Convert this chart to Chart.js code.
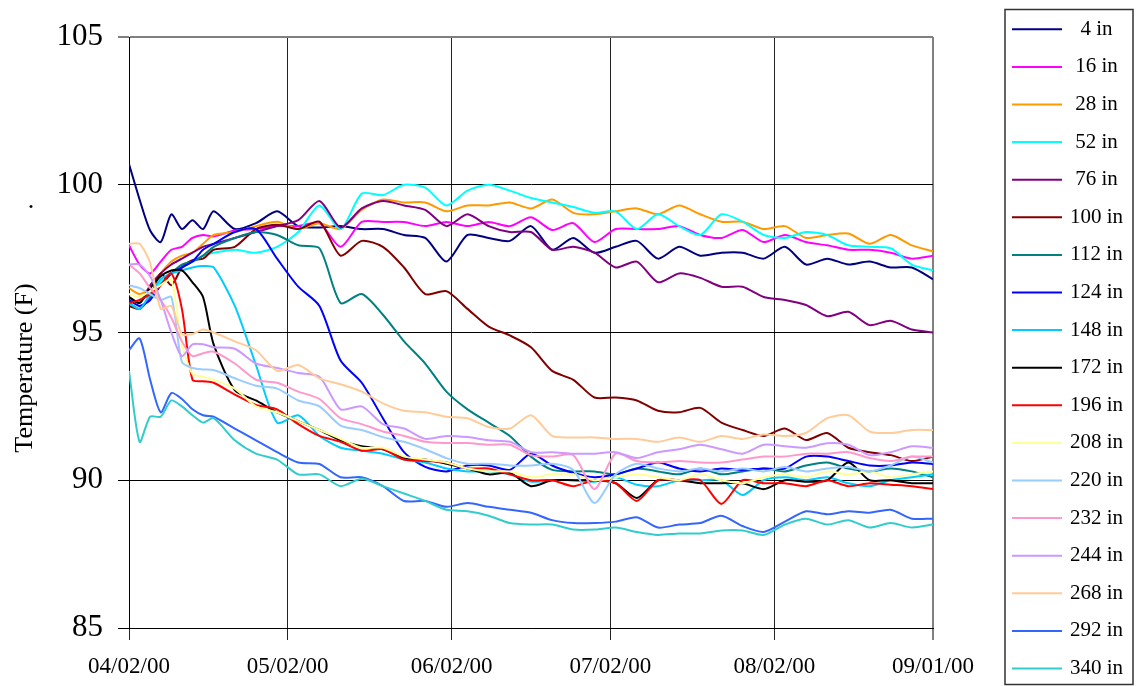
<!DOCTYPE html>
<html lang="en">
<head>
    <meta charset="UTF-8">
    <title>Temperature by Depth</title>
    <script src="https://cdn.jsdelivr.net/npm/chart.js"></script>
    <style>
        html, body { margin: 0; padding: 0; background: #fff; }
        .chart-container { position: relative; width: 1138px; height: 686px; }
    </style>
</head>
<body>
<div class="chart-container"><canvas id="tempChart"></canvas></div>
<script>
// days since 04/02/00
const days = [0, 2, 4, 6, 8, 10, 12, 14, 16, 20, 24, 28, 32, 36, 40, 44, 48, 52, 56,
    60, 64, 68, 72, 76, 80, 84, 88, 92, 96, 100, 104, 108, 112, 116, 120, 124, 128, 132, 136,
    140, 144, 148, 152];

const tickDays = [0, 30, 61, 91, 122, 152];
const tickLabels = ['04/02/00', '05/02/00', '06/02/00', '07/02/00', '08/02/00', '09/01/00'];

const depthLabels = ['4 in', '16 in', '28 in', '52 in', '76 in', '100 in', '112 in', '124 in', '148 in',
    '172 in', '196 in', '208 in', '220 in', '232 in', '244 in', '268 in', '292 in', '340 in'];

const t4 = [100.7, 99.5, 98.45, 98.06, 99.0, 98.5, 98.8, 98.5, 99.1,
    98.5, 98.7, 99.1, 98.6, 98.55, 98.6, 98.5, 98.5, 98.3, 98.2,
    97.4, 98.3, 98.2, 98.1, 98.6, 97.8, 98.2, 97.7, 97.9, 98.1,
    97.5, 97.9, 97.6, 97.7, 97.7, 97.5, 97.9, 97.3, 97.5, 97.3,
    97.4, 97.2, 97.2, 96.8];
const t16 = [97.95, 97.3, 97.0, 97.4, 97.8, 97.9, 98.2, 98.3, 98.25,
    98.45, 98.5, 98.6, 98.6, 98.7, 97.9, 98.74, 98.74, 98.74, 98.6,
    98.74, 98.6, 98.74, 98.6, 98.9, 98.47, 98.7, 98.06, 98.5, 98.5,
    98.5, 98.6, 98.3, 98.2, 98.47, 98.06, 98.3, 98.06, 97.95, 97.8,
    97.8, 97.7, 97.5, 97.6];
const t28 = [96.5, 96.3, 96.5, 97.0, 97.4, 97.6, 97.7, 98.0, 98.3,
    98.4, 98.6, 98.75, 98.5, 98.7, 98.5, 99.15, 99.5, 99.4, 99.4,
    99.1, 99.3, 99.3, 99.4, 99.2, 99.5, 99.05, 99.0, 99.1, 99.2,
    99.0, 99.3, 99.0, 98.75, 98.75, 98.5, 98.6, 98.2, 98.3, 98.35,
    98.0, 98.3, 97.95, 97.75];
const t52 = [96.0, 96.1, 96.3, 96.7, 97.0, 97.2, 97.4, 97.6, 97.7,
    97.8, 97.7, 97.9, 98.4, 99.3, 98.5, 99.7, 99.65, 100.0, 99.9,
    99.3, 99.8, 100.0, 99.8, 99.55, 99.4, 99.25, 99.05, 99.1, 98.5,
    99.0, 98.6, 98.3, 99.0, 98.75, 98.3, 98.2, 98.4, 98.3, 97.95,
    97.9, 97.85, 97.3, 97.1];
const t76 = [96.2, 96.0, 96.6, 97.0, 97.3, 97.5, 97.7, 97.9, 98.0,
    98.2, 98.4, 98.6, 98.8, 99.45, 98.55, 99.2, 99.45, 99.3, 99.15,
    98.6, 99.0, 98.6, 98.4, 98.4, 97.8, 97.9, 97.7, 97.2, 97.4,
    96.7, 97.0, 96.85, 96.55, 96.55, 96.2, 96.1, 95.93, 95.55, 95.7,
    95.25, 95.4, 95.1, 95.0];
const t100 = [95.9, 95.8, 96.2, 97.0, 96.6, 97.2, 97.45, 97.5, 97.8,
    97.9, 98.5, 98.65, 98.5, 98.75, 97.6, 98.1, 97.9, 97.2, 96.3,
    96.4, 95.8, 95.2, 94.9, 94.5, 93.7, 93.4, 92.8, 92.8, 92.7,
    92.35, 92.3, 92.45, 91.95, 91.7, 91.5, 91.75, 91.36, 91.6, 91.1,
    90.95, 90.85, 90.65, 90.8];
const t112 = [96.0, 95.8, 96.2, 96.6, 97.0, 97.3, 97.4, 97.6, 97.9,
    98.2, 98.4, 98.3, 97.95, 97.85, 96.0, 96.3, 95.6, 94.7, 93.95,
    93.0, 92.4, 91.95, 91.5, 90.8, 90.35, 90.3, 90.3, 90.2, 90.4,
    90.3, 90.2, 90.4, 90.2, 90.3, 90.4, 90.3, 90.5, 90.6, 90.4,
    90.3, 90.4, 90.3, 90.1];
const t124 = [96.1, 95.9, 96.1, 96.6, 97.0, 97.2, 97.4, 97.8, 98.0,
    98.4, 98.5, 97.5, 96.55, 95.9, 94.05, 93.3, 92.1, 90.95, 90.45,
    90.3, 90.5, 90.5, 90.35, 90.9, 90.5, 90.25, 90.1, 90.2, 90.4,
    90.6, 90.4, 90.3, 90.4, 90.35, 90.4, 90.4, 90.8, 90.8, 90.65,
    90.5, 90.5, 90.6, 90.55];
const t148 = [96.0, 95.8, 96.3, 96.8, 97.0, 97.1, 97.2, 97.25, 97.2,
    95.9, 93.9, 91.95, 92.2, 91.5, 91.1, 91.0, 90.9, 90.7, 90.6,
    90.4, 90.3, 90.3, 90.2, 89.95, 90.0, 90.0, 89.95, 90.1, 89.85,
    89.8, 90.0, 90.0, 90.0, 89.5, 90.0, 90.1, 90.0, 90.1, 89.9,
    89.8, 90.0, 90.1, 90.2];
const t172 = [96.2, 96.0, 96.5, 96.9, 97.1, 97.1, 96.7, 96.2, 94.6,
    93.05, 92.7, 92.3, 92.0, 91.7, 91.35, 91.15, 91.05, 90.75, 90.7,
    90.56, 90.4, 90.2, 90.25, 89.8, 90.0, 90.0, 90.0, 89.9, 89.4,
    90.0, 90.0, 89.9, 89.9, 89.9, 89.7, 90.0, 89.95, 90.0, 90.6,
    90.0, 90.0, 89.9, 89.9];
const t196 = [96.0, 96.1, 96.3, 96.6, 97.0, 95.8, 93.4, 93.35, 93.3,
    92.9, 92.55, 92.4, 91.9, 91.5, 91.3, 91.0, 91.05, 90.7, 90.65,
    90.6, 90.4, 90.4, 90.2, 90.0, 90.0, 89.8, 90.0, 89.9, 89.3,
    90.0, 90.0, 90.0, 89.2, 90.0, 89.9, 89.9, 89.8, 90.0, 89.8,
    89.9, 89.85, 89.8, 89.7];
const t208 = [96.3, 96.2, 96.4, 96.6, 96.8, 94.6, 93.6, 93.5, 93.4,
    93.1, 92.5, 92.3, 92.0, 91.7, 91.4, 91.1, 91.1, 90.8, 90.7,
    90.6, 90.4, 90.3, 90.3, 90.1, 90.2, 90.2, 90.0, 90.1, 90.2,
    90.1, 90.0, 90.2, 90.0, 89.9, 90.1, 90.2, 90.1, 90.3, 90.2,
    90.3, 90.1, 90.2, 90.3];
const t220 = [96.6, 96.5, 96.3, 96.1, 96.2, 94.0, 93.8, 93.75, 93.73,
    93.45, 93.2, 93.1, 92.7, 92.5, 91.85, 91.7, 91.46, 91.3, 91.05,
    90.75, 90.56, 90.56, 90.5, 90.5, 90.56, 90.35, 89.23, 90.2, 90.56,
    90.4, 90.3, 90.4, 90.3, 90.4, 90.3, 90.45, 90.3, 90.4, 90.45,
    90.3, 90.5, 90.8, 90.6];
const t232 = [97.3, 97.0, 96.5, 96.1, 95.5, 94.7, 94.2, 94.3, 94.35,
    93.95, 93.4, 93.3, 93.0, 92.75, 92.1, 91.9, 91.65, 91.5, 91.3,
    91.26, 91.26, 91.2, 91.2, 90.85, 90.8, 90.85, 89.7, 90.9, 90.65,
    90.6, 90.65, 90.6, 90.6, 90.7, 90.8, 90.8, 90.9, 90.9, 90.95,
    90.75, 90.65, 90.8, 90.8];
const t244 = [97.3, 97.3, 96.9, 96.1, 95.0, 94.2, 94.6, 94.6, 94.5,
    94.45, 93.95, 93.8, 93.63, 93.5, 92.4, 92.5, 91.9, 91.75, 91.4,
    91.5, 91.46, 91.35, 91.3, 90.95, 90.95, 90.9, 90.9, 90.95, 90.75,
    90.95, 91.05, 91.2, 91.05, 90.9, 91.2, 91.15, 91.1, 91.25, 91.2,
    90.85, 90.95, 91.15, 91.1];
const t268 = [98.0, 98.0, 97.35, 95.8, 95.9, 94.95, 94.95, 95.1, 95.0,
    94.7, 94.4, 93.7, 93.9, 93.45, 93.25, 93.0, 92.6, 92.35, 92.3,
    92.15, 92.1, 91.8, 91.75, 92.2, 91.5, 91.45, 91.45, 91.4, 91.4,
    91.3, 91.45, 91.3, 91.5, 91.4, 91.55, 91.5, 91.6, 92.1, 92.2,
    91.65, 91.6, 91.7, 91.7];
const t292 = [94.4, 94.8, 93.4, 92.3, 92.95, 92.75, 92.4, 92.2, 92.15,
    91.75, 91.35, 90.95, 90.6, 90.55, 90.1, 90.1, 89.8, 89.3, 89.3,
    89.1, 89.23, 89.1, 89.0, 88.9, 88.65, 88.55, 88.55, 88.6, 88.75,
    88.4, 88.5, 88.55, 88.8, 88.45, 88.25, 88.6, 88.95, 88.85, 88.95,
    88.9, 89.0, 88.7, 88.7];
const t340 = [93.7, 91.3, 92.15, 92.15, 92.7, 92.5, 92.2, 91.95, 92.1,
    91.35, 90.9, 90.7, 90.2, 90.2, 89.8, 90.05, 89.8, 89.55, 89.3,
    89.0, 88.95, 88.8, 88.55, 88.5, 88.5, 88.33, 88.33, 88.4, 88.25,
    88.15, 88.2, 88.2, 88.3, 88.3, 88.15, 88.5, 88.7, 88.5, 88.65,
    88.4, 88.55, 88.4, 88.5];

const allSeries = [t4, t16, t28, t52, t76, t100, t112, t124, t148,
    t172, t196, t208, t220, t232, t244, t268, t292, t340];

const lineColors = ['#000080', '#FF00FF', '#FF9900', '#00FFFF', '#800080', '#800000', '#008080',
    '#0000FF', '#00CCFF', '#000000', '#FF0000', '#FFFF99', '#99CCFF', '#FF99CC', '#CC99FF',
    '#FFCC99', '#3366FF', '#33CCCC'];

const serif = "'Liberation Serif', 'Times New Roman', serif";

// y axis title, stray dot and boxed legend on the right
const extrasPlugin = {
    id: 'extras',
    afterDraw(chart) {
        const ctx = chart.ctx;
        ctx.save();
        ctx.fillStyle = '#000';
        ctx.font = '26px ' + serif;
        ctx.textAlign = 'center';
        ctx.textBaseline = 'alphabetic';
        ctx.fillText('.', 31, 208);

        ctx.translate(25, 368);
        ctx.rotate(-Math.PI / 2);
        ctx.textBaseline = 'middle';
        ctx.fillText('Temperature (F)', 0, 0);
        ctx.restore();

        ctx.save();
        ctx.strokeStyle = '#333';
        ctx.lineWidth = 1.5;
        ctx.strokeRect(1005, 9.5, 128, 675);
        ctx.font = '21px ' + serif;
        ctx.textAlign = 'center';
        ctx.textBaseline = 'middle';
        chart.data.datasets.forEach((ds, i) => {
            const y = 29.3 + i * 37.6;
            ctx.strokeStyle = ds.borderColor;
            ctx.lineWidth = 2;
            ctx.beginPath();
            ctx.moveTo(1012, y);
            ctx.lineTo(1062, y);
            ctx.stroke();
            ctx.fillStyle = '#000';
            ctx.fillText(ds.label, 1096.5, y);
        });
        ctx.restore();
    }
};

new Chart(document.getElementById('tempChart'), {
    type: 'line',
    data: {
        datasets: allSeries.map((vals, i) => ({
            label: depthLabels[i],
            data: days.map((d, k) => ({ x: d, y: vals[k] })),
            borderColor: lineColors[i],
            backgroundColor: lineColors[i],
            borderWidth: 2,
            pointRadius: 0,
            tension: 0.25,
            fill: false,
            order: -i
        }))
    },
    options: {
        responsive: true,
        maintainAspectRatio: false,
        animation: false,
        layout: { padding: { top: 37, right: 205, left: 0, bottom: 0 } },
        plugins: {
            legend: { display: false },
            tooltip: { enabled: false }
        },
        scales: {
            x: {
                type: 'linear',
                min: 0,
                max: 152,
                afterFit(scale) { scale.height = 58; },
                afterBuildTicks(scale) {
                    scale.ticks = tickDays.map(v => ({ value: v }));
                },
                ticks: {
                    autoSkip: false,
                    maxRotation: 0,
                    padding: 13,
                    color: '#000',
                    font: { family: serif, size: 23 },
                    callback: (value, index) => tickLabels[index]
                },
                grid: {
                    color: ctx => (ctx.tick && ctx.tick.value === 152) ? '#808080' : '#222',
                    lineWidth: ctx => (ctx.tick && ctx.tick.value === 152) ? 2 : 1,
                    tickLength: 12
                },
                border: { color: '#000', width: 1 }
            },
            y: {
                min: 85,
                max: 105,
                afterFit(scale) { scale.width = 129; },
                ticks: {
                    stepSize: 5,
                    padding: 15,
                    color: '#000',
                    font: { family: serif, size: 31 }
                },
                grid: {
                    color: ctx => (ctx.tick && ctx.tick.value === 105) ? '#808080' : '#000',
                    lineWidth: ctx => (ctx.tick && ctx.tick.value === 105) ? 2 : 1,
                    tickLength: 11
                },
                border: { color: '#000', width: 1 }
            }
        }
    },
    plugins: [extrasPlugin]
});
</script>
</body>
</html>
